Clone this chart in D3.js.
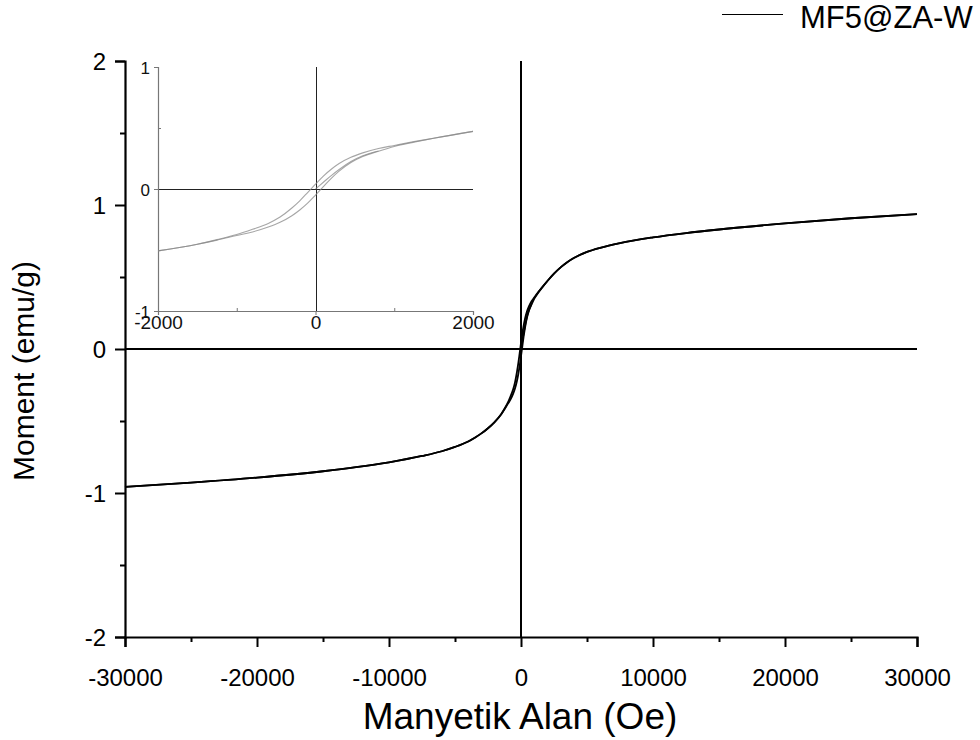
<!DOCTYPE html>
<html>
<head>
<meta charset="utf-8">
<script src="https://cdn.jsdelivr.net/npm/d3@7/dist/d3.min.js"></script>
<style>
  html, body { margin: 0; padding: 0; background: #fff; }
  svg { display: block; font-family: "Liberation Sans", Arial, Helvetica, sans-serif; }
</style>
</head>
<body>
<svg id="chart" width="980" height="740"></svg>
<script>
// Applied field (Oe) grid shared by both loop branches
const fieldOe = [-30000, -25000, -20000, -15000, -12500, -10000, -7500, -6000, -5000, -4000, -3500,
  -3000, -2500, -2000, -1500, -1250, -1000, -800, -600, -450, -300, -200, -100, 0, 100, 200, 300,
  450, 600, 800, 1000, 1250, 1500, 2000, 2500, 3000, 3500, 4000, 5000, 6000, 7500, 10000, 12500,
  15000, 20000, 25000, 30000];
// Descending branch (coming down from +30 kOe), emu/g
const momentDown = [-0.958, -0.928, -0.893, -0.849, -0.821, -0.787, -0.743, -0.710, -0.680, -0.642, -0.616,
  -0.586, -0.550, -0.507, -0.453, -0.415, -0.373, -0.330, -0.282, -0.230, -0.156, -0.097, -0.029, 0.040, 0.106, 0.162, 0.209,
  0.260, 0.296, 0.332, 0.357, 0.388, 0.416, 0.472, 0.523, 0.567, 0.603, 0.632, 0.674, 0.703, 0.736, 0.775, 0.805,
  0.830, 0.872, 0.908, 0.937];
// Ascending branch (going up from -30 kOe), emu/g
const momentUp = [-0.958, -0.928, -0.893, -0.849, -0.821, -0.787, -0.743, -0.710, -0.680, -0.642, -0.616,
  -0.586, -0.550, -0.507, -0.453, -0.419, -0.381, -0.352, -0.312, -0.273, -0.219, -0.172, -0.116, -0.050, 0.019, 0.087, 0.146,
  0.217, 0.266, 0.310, 0.349, 0.384, 0.416, 0.472, 0.523, 0.567, 0.603, 0.632, 0.674, 0.703, 0.736, 0.775, 0.805,
  0.830, 0.872, 0.908, 0.937];
// Initial magnetization curve
const virginField = [0, 100, 200, 300, 450, 600, 800];
const virginMoment = [0, 0.055, 0.11, 0.16, 0.225, 0.272, 0.312];

const xTicks = [-30000, -20000, -10000, 0, 10000, 20000, 30000];
const xMinorTicks = [-25000, -15000, -5000, 5000, 15000, 25000];
const yTicks = [-2, -1, 0, 1, 2];
const yMinorTicks = [-1.5, -0.5, 0.5, 1.5];
const insetXTicks = [-2000, 0, 2000];
const insetXMinorTicks = [-1000, 1000];
const insetYTicks = [-1, 0, 1];
const insetYMinorTicks = [-0.5, 0.5];
const seriesName = "MF5@ZA-W";
const xTitle = "Manyetik Alan (Oe)";
const yTitle = "Moment (emu/g)";

const FONT = "Liberation Sans, Arial, sans-serif";
const plain = d => String(d);   // hyphen-minus labels
const svg = d3.select("#chart");

// ---------- main plot ----------
const x = d3.scaleLinear().domain([-30000, 30000]).range([125, 917]);
const y = d3.scaleLinear().domain([-2, 2]).range([637, 61]);

const upPts = fieldOe.map((h, i) => [h, momentUp[i]]);
const downPts = fieldOe.map((h, i) => [h, momentDown[i]]);
const virginPts = virginField.map((h, i) => [h, virginMoment[i]]);

const line = d3.line().x(d => x(d[0])).y(d => y(d[1])).curve(d3.curveMonotoneX);

// zero lines
svg.append("line").attr("x1", x(0)).attr("x2", x(0)).attr("y1", y(2)).attr("y2", y(-2))
  .attr("stroke", "#000").attr("stroke-width", 2);
svg.append("line").attr("x1", x(-30000)).attr("x2", x(30000)).attr("y1", y(0)).attr("y2", y(0))
  .attr("stroke", "#000").attr("stroke-width", 2);

// axes
const main = svg.append("g");
const gx = main.append("g").attr("transform", `translate(0,${y(-2)})`)
  .call(d3.axisBottom(x).tickValues(xTicks).tickSize(10).tickPadding(22).tickFormat(plain));
main.append("g").attr("transform", `translate(0,${y(-2)})`)
  .call(d3.axisBottom(x).tickValues(xMinorTicks).tickSize(5).tickFormat(""))
  .call(g => g.select(".domain").remove());
const gy = main.append("g").attr("transform", `translate(${x(-30000)},0)`)
  .call(d3.axisLeft(y).tickValues(yTicks).tickSize(10).tickPadding(9).tickFormat(plain));
main.append("g").attr("transform", `translate(${x(-30000)},0)`)
  .call(d3.axisLeft(y).tickValues(yMinorTicks).tickSize(5).tickFormat(""))
  .call(g => g.select(".domain").remove());

main.selectAll(".domain").attr("stroke", "#000").attr("stroke-width", 2.2);
main.selectAll(".tick line").attr("stroke", "#000").attr("stroke-width", 2);
gx.selectAll(".tick text").attr("font-size", 24).attr("fill", "#000").attr("font-family", FONT);
gy.selectAll(".tick text").attr("font-size", 24).attr("fill", "#000").attr("dy", "0.36em")
  .attr("font-family", FONT);

// hysteresis loop
const loopG = svg.append("g").attr("fill", "none").attr("stroke", "#000").attr("stroke-width", 1.8);
loopG.append("path").attr("d", line(upPts));
loopG.append("path").attr("d", line(downPts));
loopG.append("path").attr("d", line(virginPts));

// axis titles
svg.append("text").attr("x", 520).attr("y", 729).attr("text-anchor", "middle")
  .attr("font-size", 37).attr("fill", "#000").text(xTitle);
svg.append("text").attr("transform", "translate(34,371) rotate(-90)").attr("text-anchor", "middle")
  .attr("font-size", 30).attr("fill", "#000").text(yTitle);

// legend
svg.append("line").attr("x1", 722).attr("x2", 783).attr("y1", 14.5).attr("y2", 14.5)
  .attr("stroke", "#000").attr("stroke-width", 1);
svg.append("text").attr("x", 800).attr("y", 28).attr("font-size", 31).attr("fill", "#000").text(seriesName);

// ---------- inset: low-field detail ----------
const ix = d3.scaleLinear().domain([-2000, 2000]).range([158, 473]);
const iy = d3.scaleLinear().domain([-1, 1]).range([311, 67]);
const inLine = d3.line().x(d => ix(d[0])).y(d => iy(d[1])).curve(d3.curveMonotoneX);
const inRange = p => p[0] >= -2000 && p[0] <= 2000;

const inset = svg.append("g");
inset.append("line").attr("x1", Math.round(ix(0)) + 0.5).attr("x2", Math.round(ix(0)) + 0.5)
  .attr("y1", iy(1)).attr("y2", iy(-1)).attr("stroke", "#222").attr("stroke-width", 1);
inset.append("line").attr("x1", ix(-2000)).attr("x2", ix(2000))
  .attr("y1", Math.round(iy(0)) + 0.5).attr("y2", Math.round(iy(0)) + 0.5)
  .attr("stroke", "#222").attr("stroke-width", 1);

const igx = inset.append("g").attr("transform", `translate(0,${iy(-1)})`)
  .call(d3.axisBottom(ix).tickValues(insetXTicks).tickSize(4).tickPadding(1).tickFormat(plain));
inset.append("g").attr("transform", `translate(0,${iy(-1)})`)
  .call(d3.axisBottom(ix).tickValues(insetXMinorTicks).tickSize(-3).tickFormat(""))
  .call(g => g.select(".domain").remove());
const igy = inset.append("g").attr("transform", `translate(${ix(-2000)},0)`)
  .call(d3.axisLeft(iy).tickValues(insetYTicks).tickSize(4).tickPadding(4).tickFormat(plain));
inset.append("g").attr("transform", `translate(${ix(-2000)},0)`)
  .call(d3.axisLeft(iy).tickValues(insetYMinorTicks).tickSize(-3).tickFormat(""))
  .call(g => g.select(".domain").remove());
inset.selectAll(".domain").attr("stroke", "#777").attr("stroke-width", 1.2);
inset.selectAll(".tick line").attr("stroke", "#777").attr("stroke-width", 1);
igx.selectAll(".tick text").attr("font-size", 19).attr("fill", "#111").attr("font-family", FONT);
igy.selectAll(".tick text").attr("font-size", 17).attr("fill", "#111").attr("font-family", FONT)
  .attr("dy", "0.36em");

const inG = inset.append("g").attr("fill", "none").attr("stroke", "#888")
  .attr("stroke-width", 1.1).attr("stroke-opacity", 0.75);
inG.append("path").attr("d", inLine(upPts.filter(inRange)));
inG.append("path").attr("d", inLine(downPts.filter(inRange)));
inG.append("path").attr("d", inLine(virginPts));
</script>
</body>
</html>
